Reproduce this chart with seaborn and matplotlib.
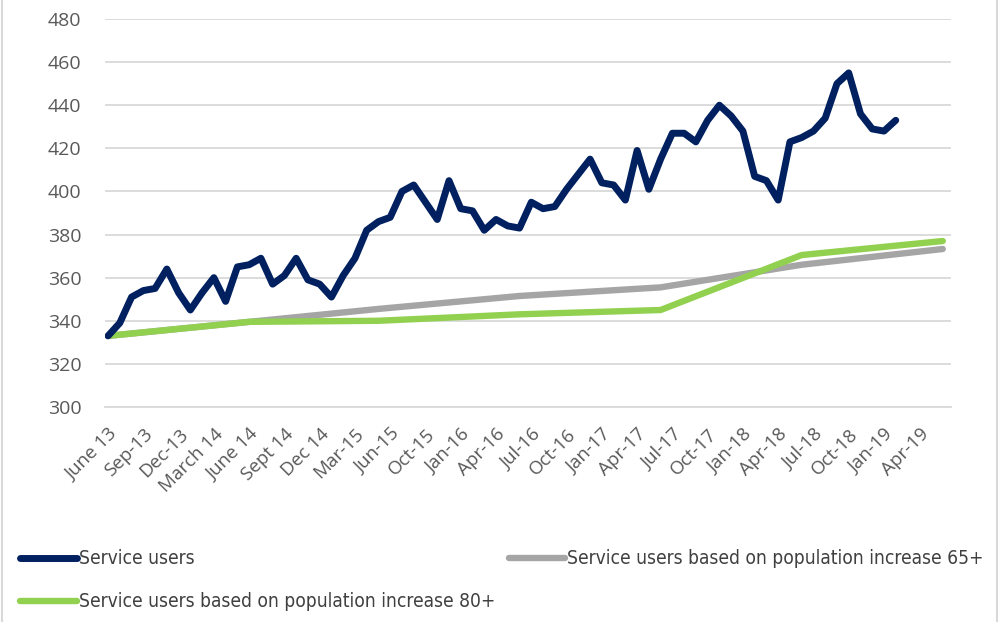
import matplotlib
matplotlib.use("Agg")
import matplotlib.pyplot as plt
import seaborn as sns
import pandas as pd
from matplotlib.patches import Rectangle

# monthly service users, June 2013 onwards
users = [333, 339, 351, 354, 355, 364, 353, 345, 353, 360, 349, 365,
         366, 369, 357, 361, 369, 359, 357, 351, 361, 369, 382, 386,
         388, 400, 403, 395, 387, 405, 392, 391, 382, 387, 384, 383,
         395, 392, 393, 401, 408, 415, 404, 403, 396, 419, 401, 415,
         427, 427, 423, 433, 440, 435, 428, 407, 405, 396, 423, 425,
         428, 434, 450, 455, 436, 429, 428, 433]

# projections, read at the yearly points where the lines bend
proj_months = [0, 12, 23, 35, 47, 59, 71]
proj_65 = [333, 339.5, 345.5, 351.5, 355.5, 366, 373.3]
proj_80 = [333, 339.5, 340, 343, 345, 370.5, 377]

tick_labels = ["June 13", "Sep-13", "Dec-13", "March 14", "June 14", "Sept 14",
               "Dec 14", "Mar-15", "Jun-15", "Oct-15", "Jan-16", "Apr-16",
               "Jul-16", "Oct-16", "Jan-17", "Apr-17", "Jul-17", "Oct-17",
               "Jan-18", "Apr-18", "Jul-18", "Oct-18", "Jan-19", "Apr-19"]

NAVY = "#002060"
GREY = "#A5A5A5"
GREEN = "#92D050"

sns.set_style("white")
plt.rcParams["font.family"] = ["Open Sans", "DejaVu Sans"]

df_users = pd.DataFrame({"month": range(len(users)), "value": users})
df_proj = pd.DataFrame({"month": proj_months, "p65": proj_65, "p80": proj_80})

fig = plt.figure(figsize=(10.08, 6.22), dpi=100)
ax = fig.add_axes([105 / 1008, 1 - 407 / 622, (951 - 105) / 1008, (407 - 19) / 622])

sns.lineplot(data=df_proj, x="month", y="p65", ax=ax, color=GREY, lw=4.6,
             solid_capstyle="round", label="Service users based on population increase 65+")
sns.lineplot(data=df_proj, x="month", y="p80", ax=ax, color=GREEN, lw=4.6,
             solid_capstyle="round", label="Service users based on population increase 80+")
sns.lineplot(data=df_users, x="month", y="value", ax=ax, color=NAVY, lw=5,
             solid_capstyle="round", label="Service users")

ax.set_xlim(-0.26, 71.7)
ax.set_ylim(300, 480)
ax.set_yticks(range(300, 481, 20))
ax.set_xticks(range(0, 3 * len(tick_labels), 3))
ax.set_xticklabels(tick_labels, rotation=45, ha="right", rotation_mode="anchor")
ax.grid(axis="y", color="#D9D9D9", lw=1.3)
ax.set_axisbelow(True)
for side in ["top", "right", "left"]:
    ax.spines[side].set_visible(False)
ax.spines["bottom"].set_color("#D9D9D9")
ax.spines["bottom"].set_linewidth(1.3)
ax.tick_params(axis="y", length=0, pad=17, labelsize=14, labelcolor="#595959")
ax.tick_params(axis="x", length=0, pad=13, labelsize=13.5, labelcolor="#595959")
ax.set_xlabel("")
ax.set_ylabel("")

handles, labels = ax.get_legend_handles_labels()
ax.get_legend().remove()
order = [2, 1, 0]
leg = fig.legend([handles[i] for i in order], [labels[i] for i in order],
                 ncol=2, loc="upper left", bbox_to_anchor=(3 / 1008, 1 - 532 / 622),
                 frameon=False, handlelength=2.97, handletextpad=0.1,
                 columnspacing=0.68, labelspacing=1.25,
                 prop={"family": "DejaVu Sans", "stretch": "condensed", "size": 13.8})
for t in leg.get_texts():
    t.set_color("#404040")

fig.add_artist(Rectangle((2 / 1008, -0.01), 995 / 1008, 1.02, transform=fig.transFigure,
                         fill=False, edgecolor="#D9D9D9", lw=1.5))

fig.savefig("out.png", dpi=100)
